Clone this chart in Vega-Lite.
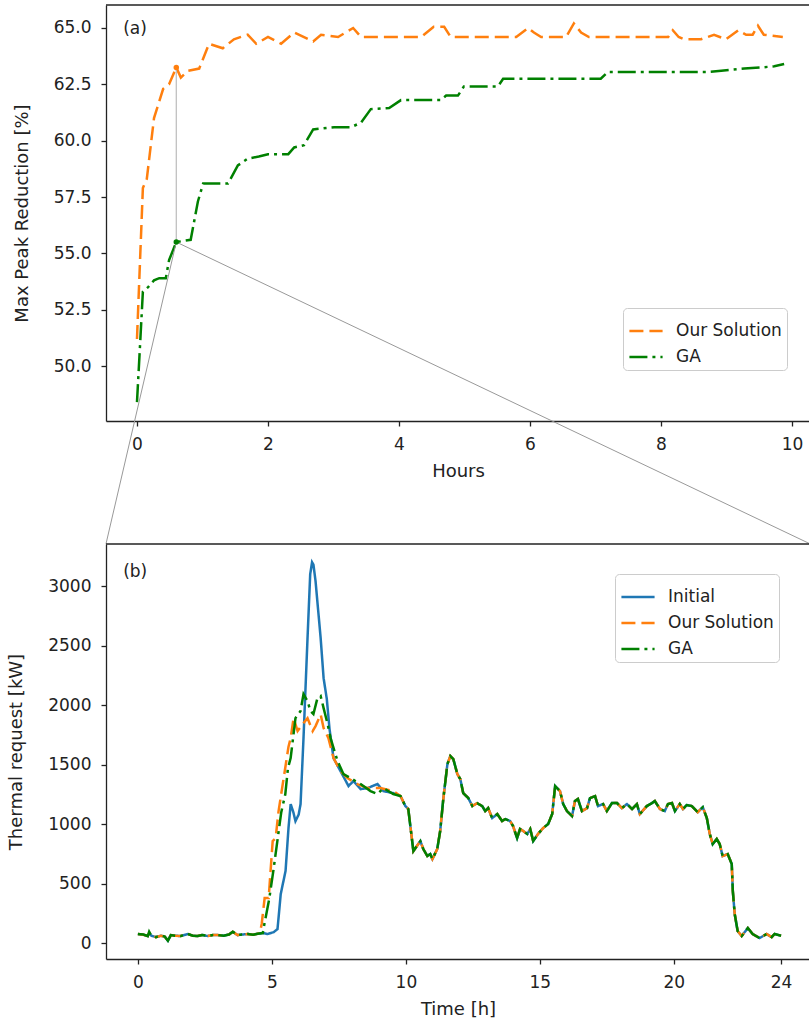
{
  "$schema": "https://vega.github.io/schema/vega-lite/v6.json",
  "padding": {"left": 7, "top": 4, "right": 0, "bottom": 0},
  "background": "white",
  "spacing": 123,
  "bounds": "flush",
  "config": {
    "view": {"stroke": null},
    "font": "DejaVu Sans",
    "axis": {
      "grid": false, "domainColor": "#222", "domainWidth": 1.3, "tickColor": "#222", "tickWidth": 1.3, "tickSize": 5,
      "labelFont": "DejaVu Sans", "labelFontSize": 17, "labelColor": "#222", "labelPadding": 10, "labelOverlap": false, "labelFlush": false,
      "titleFont": "DejaVu Sans", "titleFontSize": 18, "titleFontWeight": "normal", "titleColor": "#222", "titlePadding": 10
    },
    "axisY": {"titlePadding": 22},
    "legend": {"title": null, "fillColor": "white", "strokeColor": "#cccccc", "cornerRadius": 4, "padding": 5, "symbolType": "stroke", "symbolSize": 1100, "symbolStrokeWidth": 2.5, "labelFontSize": 17, "labelFont": "DejaVu Sans", "labelColor": "#222", "rowPadding": 0, "labelOffset": 12}
  },
  "resolve": {"scale": {"color": "independent", "strokeDash": "independent"}},
  "datasets": {
    "a": [
      {"h": 0.0, "s": "Our Solution", "v": 51.2}, {"h": 0.09, "s": "Our Solution", "v": 57.9}, {"h": 0.15, "s": "Our Solution", "v": 58.3},
      {"h": 0.26, "s": "Our Solution", "v": 61.0}, {"h": 0.40, "s": "Our Solution", "v": 62.3}, {"h": 0.49, "s": "Our Solution", "v": 62.5},
      {"h": 0.60, "s": "Our Solution", "v": 63.25}, {"h": 0.67, "s": "Our Solution", "v": 62.8}, {"h": 0.78, "s": "Our Solution", "v": 63.1},
      {"h": 0.95, "s": "Our Solution", "v": 63.2}, {"h": 1.10, "s": "Our Solution", "v": 64.3}, {"h": 1.31, "s": "Our Solution", "v": 64.1},
      {"h": 1.48, "s": "Our Solution", "v": 64.5}, {"h": 1.69, "s": "Our Solution", "v": 64.7}, {"h": 1.82, "s": "Our Solution", "v": 64.3},
      {"h": 2.00, "s": "Our Solution", "v": 64.6}, {"h": 2.20, "s": "Our Solution", "v": 64.3}, {"h": 2.40, "s": "Our Solution", "v": 64.8},
      {"h": 2.69, "s": "Our Solution", "v": 64.4}, {"h": 2.81, "s": "Our Solution", "v": 64.7}, {"h": 3.07, "s": "Our Solution", "v": 64.6},
      {"h": 3.30, "s": "Our Solution", "v": 65.0}, {"h": 3.42, "s": "Our Solution", "v": 64.6}, {"h": 4.03, "s": "Our Solution", "v": 64.6},
      {"h": 4.34, "s": "Our Solution", "v": 64.6}, {"h": 4.53, "s": "Our Solution", "v": 65.05}, {"h": 4.69, "s": "Our Solution", "v": 65.05},
      {"h": 4.79, "s": "Our Solution", "v": 64.6}, {"h": 5.79, "s": "Our Solution", "v": 64.6}, {"h": 5.97, "s": "Our Solution", "v": 65.0},
      {"h": 6.06, "s": "Our Solution", "v": 64.8}, {"h": 6.17, "s": "Our Solution", "v": 64.6}, {"h": 6.55, "s": "Our Solution", "v": 64.6},
      {"h": 6.67, "s": "Our Solution", "v": 65.2}, {"h": 6.78, "s": "Our Solution", "v": 64.8}, {"h": 6.90, "s": "Our Solution", "v": 64.6},
      {"h": 8.11, "s": "Our Solution", "v": 64.6}, {"h": 8.18, "s": "Our Solution", "v": 64.9}, {"h": 8.27, "s": "Our Solution", "v": 64.6},
      {"h": 8.35, "s": "Our Solution", "v": 64.5}, {"h": 8.61, "s": "Our Solution", "v": 64.5}, {"h": 8.81, "s": "Our Solution", "v": 64.7},
      {"h": 8.99, "s": "Our Solution", "v": 64.5}, {"h": 9.18, "s": "Our Solution", "v": 64.9}, {"h": 9.30, "s": "Our Solution", "v": 64.7},
      {"h": 9.40, "s": "Our Solution", "v": 64.7}, {"h": 9.48, "s": "Our Solution", "v": 65.1}, {"h": 9.57, "s": "Our Solution", "v": 64.7},
      {"h": 9.86, "s": "Our Solution", "v": 64.6},
      {"h": 0.0, "s": "GA", "v": 48.4}, {"h": 0.05, "s": "GA", "v": 51.1}, {"h": 0.09, "s": "GA", "v": 53.3}, {"h": 0.17, "s": "GA", "v": 53.5},
      {"h": 0.26, "s": "GA", "v": 53.8}, {"h": 0.34, "s": "GA", "v": 53.9}, {"h": 0.44, "s": "GA", "v": 53.9}, {"h": 0.49, "s": "GA", "v": 54.7},
      {"h": 0.60, "s": "GA", "v": 55.5}, {"h": 0.82, "s": "GA", "v": 55.6}, {"h": 0.93, "s": "GA", "v": 57.3}, {"h": 1.01, "s": "GA", "v": 58.1},
      {"h": 1.39, "s": "GA", "v": 58.1}, {"h": 1.54, "s": "GA", "v": 58.9}, {"h": 1.69, "s": "GA", "v": 59.2}, {"h": 1.86, "s": "GA", "v": 59.3},
      {"h": 2.00, "s": "GA", "v": 59.4}, {"h": 2.31, "s": "GA", "v": 59.4}, {"h": 2.40, "s": "GA", "v": 59.7}, {"h": 2.55, "s": "GA", "v": 59.8},
      {"h": 2.69, "s": "GA", "v": 60.5}, {"h": 3.01, "s": "GA", "v": 60.6}, {"h": 3.27, "s": "GA", "v": 60.6}, {"h": 3.42, "s": "GA", "v": 60.8},
      {"h": 3.57, "s": "GA", "v": 61.4}, {"h": 3.85, "s": "GA", "v": 61.45}, {"h": 4.03, "s": "GA", "v": 61.8}, {"h": 4.64, "s": "GA", "v": 61.8},
      {"h": 4.72, "s": "GA", "v": 62.0}, {"h": 4.90, "s": "GA", "v": 62.0}, {"h": 4.99, "s": "GA", "v": 62.4}, {"h": 5.51, "s": "GA", "v": 62.4},
      {"h": 5.59, "s": "GA", "v": 62.75}, {"h": 7.08, "s": "GA", "v": 62.75}, {"h": 7.19, "s": "GA", "v": 63.05}, {"h": 8.72, "s": "GA", "v": 63.05},
      {"h": 8.92, "s": "GA", "v": 63.1}, {"h": 9.27, "s": "GA", "v": 63.2}, {"h": 9.53, "s": "GA", "v": 63.25}, {"h": 9.73, "s": "GA", "v": 63.3},
      {"h": 9.88, "s": "GA", "v": 63.4}
    ],
    "b": [
      {"t": 0.00, "Initial": 76, "Our Solution": 76, "GA": 76},
      {"t": 0.20, "Initial": 70, "Our Solution": 70, "GA": 72},
      {"t": 0.37, "Initial": 59, "Our Solution": 59, "GA": 59},
      {"t": 0.42, "Initial": 84, "Our Solution": 84, "GA": 95},
      {"t": 0.50, "Initial": 62, "Our Solution": 62, "GA": 62},
      {"t": 0.67, "Initial": 50, "Our Solution": 50, "GA": 50},
      {"t": 0.86, "Initial": 62, "Our Solution": 62, "GA": 62},
      {"t": 1.00, "Initial": 55, "Our Solution": 55, "GA": 55},
      {"t": 1.12, "Initial": 20, "Our Solution": 20, "GA": 20},
      {"t": 1.23, "Initial": 67, "Our Solution": 67, "GA": 67},
      {"t": 1.40, "Initial": 62, "Our Solution": 62, "GA": 62},
      {"t": 1.60, "Initial": 59, "Our Solution": 59, "GA": 59},
      {"t": 1.86, "Initial": 76, "Our Solution": 76, "GA": 76},
      {"t": 2.05, "Initial": 62, "Our Solution": 62, "GA": 62},
      {"t": 2.23, "Initial": 59, "Our Solution": 59, "GA": 59},
      {"t": 2.40, "Initial": 68, "Our Solution": 68, "GA": 68},
      {"t": 2.60, "Initial": 59, "Our Solution": 59, "GA": 59},
      {"t": 2.80, "Initial": 67, "Our Solution": 67, "GA": 67},
      {"t": 2.98, "Initial": 67, "Our Solution": 67, "GA": 67},
      {"t": 3.20, "Initial": 62, "Our Solution": 62, "GA": 62},
      {"t": 3.40, "Initial": 72, "Our Solution": 72, "GA": 72},
      {"t": 3.54, "Initial": 95, "Our Solution": 95, "GA": 95},
      {"t": 3.72, "Initial": 67, "Our Solution": 67, "GA": 67},
      {"t": 3.90, "Initial": 72, "Our Solution": 72, "GA": 72},
      {"t": 4.10, "Initial": 76, "Our Solution": 76, "GA": 76},
      {"t": 4.30, "Initial": 70, "Our Solution": 70, "GA": 70},
      {"t": 4.47, "Initial": 78, "Our Solution": 78, "GA": 78},
      {"t": 4.55, "Our Solution": 84},
      {"t": 4.62, "Our Solution": 160},
      {"t": 4.66, "Initial": 84, "GA": 84},
      {"t": 4.72, "GA": 160},
      {"t": 4.73, "Our Solution": 378},
      {"t": 4.84, "Initial": 76},
      {"t": 4.88, "Our Solution": 378},
      {"t": 4.90, "GA": 370},
      {"t": 5.03, "Our Solution": 857},
      {"t": 5.05, "GA": 600},
      {"t": 5.07, "Initial": 92},
      {"t": 5.14, "Our Solution": 882},
      {"t": 5.20, "GA": 850},
      {"t": 5.21, "Initial": 118},
      {"t": 5.25, "Our Solution": 1109},
      {"t": 5.33, "Initial": 412},
      {"t": 5.35, "GA": 1100},
      {"t": 5.44, "Our Solution": 1386},
      {"t": 5.50, "GA": 1250},
      {"t": 5.51, "Initial": 605},
      {"t": 5.60, "GA": 1470},
      {"t": 5.62, "Initial": 966, "Our Solution": 1650},
      {"t": 5.70, "Initial": 1168, "Our Solution": 1722, "GA": 1554},
      {"t": 5.80, "Initial": 1100},
      {"t": 5.81, "Our Solution": 1890},
      {"t": 5.88, "Initial": 1025, "GA": 1890},
      {"t": 5.96, "Our Solution": 1781},
      {"t": 6.00, "Initial": 1080},
      {"t": 6.07, "Initial": 1168, "GA": 1949},
      {"t": 6.15, "Our Solution": 1840},
      {"t": 6.18, "Initial": 1722, "GA": 2092},
      {"t": 6.33, "Initial": 2562, "Our Solution": 1890, "GA": 2033},
      {"t": 6.43, "Initial": 3100},
      {"t": 6.44, "GA": 1949},
      {"t": 6.50, "Initial": 3200},
      {"t": 6.52, "Our Solution": 1781},
      {"t": 6.55, "Initial": 3180, "GA": 1924},
      {"t": 6.63, "Initial": 3040, "Our Solution": 1823},
      {"t": 6.70, "GA": 2058},
      {"t": 6.82, "Initial": 2562, "Our Solution": 1920, "GA": 2075},
      {"t": 6.93, "Initial": 2226, "Our Solution": 1806, "GA": 1974},
      {"t": 7.05, "Initial": 2050},
      {"t": 7.08, "GA": 1840},
      {"t": 7.11, "Our Solution": 1722},
      {"t": 7.15, "Initial": 1800},
      {"t": 7.19, "GA": 1722},
      {"t": 7.30, "Initial": 1554, "Our Solution": 1554},
      {"t": 7.45, "GA": 1529},
      {"t": 7.56, "Initial": 1445, "Our Solution": 1445},
      {"t": 7.67, "GA": 1420},
      {"t": 7.82, "Our Solution": 1386},
      {"t": 7.86, "Initial": 1319},
      {"t": 7.93, "GA": 1386},
      {"t": 8.04, "Initial": 1361},
      {"t": 8.19, "Our Solution": 1336},
      {"t": 8.31, "Initial": 1294, "GA": 1336},
      {"t": 8.57, "Initial": 1302, "Our Solution": 1302},
      {"t": 8.68, "GA": 1277},
      {"t": 8.94, "Initial": 1336, "GA": 1252},
      {"t": 9.05, "Our Solution": 1302},
      {"t": 9.16, "Initial": 1277, "GA": 1302},
      {"t": 9.53, "Initial": 1260, "Our Solution": 1277, "GA": 1252},
      {"t": 9.80, "Initial": 1235, "Our Solution": 1235, "GA": 1235},
      {"t": 9.98, "Initial": 1151, "Our Solution": 1151, "GA": 1151},
      {"t": 10.09, "Initial": 1126, "Our Solution": 1126, "GA": 1126},
      {"t": 10.28, "Initial": 773, "Our Solution": 773, "GA": 773},
      {"t": 10.54, "Initial": 857, "Our Solution": 857, "GA": 857},
      {"t": 10.65, "Initial": 790, "Our Solution": 790, "GA": 790},
      {"t": 10.80, "Initial": 731, "Our Solution": 731, "GA": 731},
      {"t": 10.91, "Initial": 748, "Our Solution": 748, "GA": 748},
      {"t": 10.99, "Initial": 706, "Our Solution": 706, "GA": 706},
      {"t": 11.17, "Initial": 790, "Our Solution": 790, "GA": 790},
      {"t": 11.28, "Initial": 941, "Our Solution": 941, "GA": 941},
      {"t": 11.40, "Initial": 1218, "Our Solution": 1218, "GA": 1218},
      {"t": 11.55, "Initial": 1504, "Our Solution": 1504, "GA": 1504},
      {"t": 11.66, "Initial": 1571, "Our Solution": 1571, "GA": 1571},
      {"t": 11.77, "Initial": 1546, "Our Solution": 1546, "GA": 1546},
      {"t": 11.92, "Initial": 1420, "Our Solution": 1420, "GA": 1420},
      {"t": 12.03, "Initial": 1378, "Our Solution": 1378, "GA": 1378},
      {"t": 12.14, "Initial": 1260, "Our Solution": 1260, "GA": 1260},
      {"t": 12.33, "Initial": 1218, "Our Solution": 1218, "GA": 1218},
      {"t": 12.48, "Initial": 1151, "Our Solution": 1151, "GA": 1151},
      {"t": 12.66, "Initial": 1176, "Our Solution": 1176, "GA": 1176},
      {"t": 12.85, "Initial": 1151, "Our Solution": 1151, "GA": 1151},
      {"t": 12.96, "Initial": 1109, "Our Solution": 1109, "GA": 1109},
      {"t": 13.07, "Initial": 1134, "Our Solution": 1134, "GA": 1134},
      {"t": 13.22, "Initial": 1050, "Our Solution": 1050, "GA": 1050},
      {"t": 13.41, "Initial": 1084, "Our Solution": 1084, "GA": 1084},
      {"t": 13.59, "Initial": 1025, "Our Solution": 1025, "GA": 1025},
      {"t": 13.71, "Initial": 1042, "Our Solution": 1042, "GA": 1042},
      {"t": 13.89, "Initial": 1025, "Our Solution": 1025, "GA": 1025},
      {"t": 14.00, "Initial": 983, "Our Solution": 983, "GA": 983},
      {"t": 14.15, "Initial": 882, "Our Solution": 882, "GA": 882},
      {"t": 14.26, "Initial": 958, "Our Solution": 958, "GA": 958},
      {"t": 14.38, "Initial": 941, "Our Solution": 941, "GA": 941},
      {"t": 14.53, "Initial": 916, "Our Solution": 916, "GA": 916},
      {"t": 14.64, "Initial": 958, "Our Solution": 958, "GA": 958},
      {"t": 14.75, "Initial": 857, "Our Solution": 857, "GA": 857},
      {"t": 14.93, "Initial": 916, "Our Solution": 916, "GA": 916},
      {"t": 15.12, "Initial": 966, "Our Solution": 966, "GA": 966},
      {"t": 15.31, "Initial": 1000, "Our Solution": 1000, "GA": 1000},
      {"t": 15.46, "Initial": 1084, "Our Solution": 1084, "GA": 1084},
      {"t": 15.57, "Initial": 1319, "Our Solution": 1319, "GA": 1319},
      {"t": 15.75, "Initial": 1277, "Our Solution": 1277, "GA": 1277},
      {"t": 15.87, "Initial": 1168, "Our Solution": 1168, "GA": 1168},
      {"t": 16.01, "Initial": 1109, "Our Solution": 1109, "GA": 1109},
      {"t": 16.20, "Initial": 1067, "Our Solution": 1067, "GA": 1067},
      {"t": 16.31, "Initial": 1193, "Our Solution": 1193, "GA": 1193},
      {"t": 16.42, "Initial": 1210, "Our Solution": 1210, "GA": 1210},
      {"t": 16.57, "Initial": 1109, "Our Solution": 1109, "GA": 1109},
      {"t": 16.76, "Initial": 1134, "Our Solution": 1134, "GA": 1134},
      {"t": 16.87, "Initial": 1218, "Our Solution": 1218, "GA": 1218},
      {"t": 17.06, "Initial": 1235, "Our Solution": 1235, "GA": 1235},
      {"t": 17.17, "Initial": 1151, "Our Solution": 1151, "GA": 1151},
      {"t": 17.36, "Initial": 1168, "Our Solution": 1168, "GA": 1168},
      {"t": 17.50, "Initial": 1109, "Our Solution": 1109, "GA": 1109},
      {"t": 17.69, "Initial": 1176, "Our Solution": 1176, "GA": 1176},
      {"t": 17.88, "Initial": 1176, "Our Solution": 1176, "GA": 1176},
      {"t": 18.06, "Initial": 1134, "Our Solution": 1134, "GA": 1134},
      {"t": 18.25, "Initial": 1168, "Our Solution": 1168, "GA": 1168},
      {"t": 18.44, "Initial": 1126, "Our Solution": 1126, "GA": 1126},
      {"t": 18.62, "Initial": 1168, "Our Solution": 1168, "GA": 1168},
      {"t": 18.73, "Initial": 1084, "Our Solution": 1084, "GA": 1084},
      {"t": 18.99, "Initial": 1151, "Our Solution": 1151, "GA": 1151},
      {"t": 19.18, "Initial": 1176, "Our Solution": 1176, "GA": 1176},
      {"t": 19.29, "Initial": 1193, "Our Solution": 1193, "GA": 1193},
      {"t": 19.48, "Initial": 1126, "Our Solution": 1126, "GA": 1126},
      {"t": 19.66, "Initial": 1109, "Our Solution": 1109, "GA": 1109},
      {"t": 19.78, "Initial": 1168, "Our Solution": 1168, "GA": 1168},
      {"t": 19.93, "Initial": 1176, "Our Solution": 1176, "GA": 1176},
      {"t": 20.04, "Initial": 1109, "Our Solution": 1109, "GA": 1109},
      {"t": 20.22, "Initial": 1168, "Our Solution": 1168, "GA": 1168},
      {"t": 20.34, "Initial": 1126, "Our Solution": 1126, "GA": 1126},
      {"t": 20.48, "Initial": 1160, "Our Solution": 1160, "GA": 1160},
      {"t": 20.67, "Initial": 1151, "Our Solution": 1151, "GA": 1151},
      {"t": 20.89, "Initial": 1100, "Our Solution": 1100, "GA": 1100},
      {"t": 21.08, "Initial": 1142, "Our Solution": 1142, "GA": 1142},
      {"t": 21.23, "Initial": 1050, "Our Solution": 1050, "GA": 1050},
      {"t": 21.34, "Initial": 916, "Our Solution": 916, "GA": 916},
      {"t": 21.45, "Initial": 832, "Our Solution": 832, "GA": 832},
      {"t": 21.60, "Initial": 874, "Our Solution": 874, "GA": 874},
      {"t": 21.71, "Initial": 832, "Our Solution": 832, "GA": 832},
      {"t": 21.82, "Initial": 731, "Our Solution": 731, "GA": 731},
      {"t": 22.01, "Initial": 748, "Our Solution": 748, "GA": 748},
      {"t": 22.16, "Initial": 664, "Our Solution": 664, "GA": 664},
      {"t": 22.20, "Initial": 437, "Our Solution": 437, "GA": 437},
      {"t": 22.27, "Initial": 244, "Our Solution": 244, "GA": 244},
      {"t": 22.38, "Initial": 101, "Our Solution": 101, "GA": 101},
      {"t": 22.53, "Initial": 59, "Our Solution": 59, "GA": 59},
      {"t": 22.76, "Initial": 126, "Our Solution": 126, "GA": 126},
      {"t": 22.94, "Initial": 76, "Our Solution": 76, "GA": 76},
      {"t": 23.20, "Initial": 42, "Our Solution": 42, "GA": 42},
      {"t": 23.46, "Initial": 76, "Our Solution": 76, "GA": 76},
      {"t": 23.65, "Initial": 50, "Our Solution": 50, "GA": 50},
      {"t": 23.76, "Initial": 76, "Our Solution": 76, "GA": 76},
      {"t": 24.00, "Initial": 62, "Our Solution": 62, "GA": 62}
    ]
  },
  "vconcat": [
    {
      "width": 704,
      "height": 416,
      "layer": [
        {
          "data": {"values": [{}]},
          "mark": {"type": "rule", "color": "#222", "strokeWidth": 1.3},
          "encoding": {"y": {"datum": 66.02, "type": "quantitative"}}
        },
        {
          "data": {"name": "a"},
          "mark": {"type": "line", "strokeWidth": 2.5},
          "encoding": {
            "x": {"field": "h", "type": "quantitative",
                  "scale": {"domain": [-0.473, 10.275], "nice": false, "zero": false},
                  "axis": {"values": [0, 2, 4, 6, 8, 10], "format": "d", "title": "Hours"}},
            "y": {"field": "v", "type": "quantitative",
                  "scale": {"domain": [47.56, 66.02], "nice": false, "zero": false},
                  "axis": {"values": [50, 52.5, 55, 57.5, 60, 62.5, 65], "format": ".1f", "title": "Max Peak Reduction [%]"}},
            "color": {"field": "s", "type": "nominal",
                      "scale": {"domain": ["Our Solution", "GA"], "range": ["#ff7f0e", "#008000"]},
                      "legend": {"orient": "none", "legendX": 517, "legendY": 303}},
            "strokeDash": {"field": "s", "type": "nominal",
                      "scale": {"domain": ["Our Solution", "GA"], "range": [[14, 6], [18, 5, 3, 5]]},
                      "legend": {"orient": "none", "legendX": 517, "legendY": 303}}
          }
        },
        {
          "data": {"values": [{}]},
          "mark": {"type": "rule", "color": "#999999", "strokeWidth": 1, "clip": false},
          "encoding": {"x": {"datum": 0.6, "type": "quantitative"}, "y": {"datum": 55.5, "type": "quantitative"}, "x2": {"datum": -0.473}, "y2": {"datum": 42.11}}
        },
        {
          "data": {"values": [{}]},
          "mark": {"type": "rule", "color": "#999999", "strokeWidth": 1, "clip": false},
          "encoding": {"x": {"datum": 0.6, "type": "quantitative"}, "y": {"datum": 55.5, "type": "quantitative"}, "x2": {"datum": 10.275}, "y2": {"datum": 42.11}}
        },
        {
          "data": {"values": [{}]},
          "mark": {"type": "rule", "color": "#bbbbbb", "strokeWidth": 1.2},
          "encoding": {"x": {"datum": 0.6, "type": "quantitative"}, "y": {"datum": 63.25, "type": "quantitative"}, "y2": {"datum": 55.5}}
        },
        {
          "data": {"values": [{"h": 0.6, "v": 63.25}]},
          "mark": {"type": "point", "filled": true, "size": 30, "color": "#ff7f0e", "opacity": 1},
          "encoding": {"x": {"field": "h", "type": "quantitative"}, "y": {"field": "v", "type": "quantitative"}}
        },
        {
          "data": {"values": [{"h": 0.6, "v": 55.5}]},
          "mark": {"type": "point", "filled": true, "size": 30, "color": "#008000", "opacity": 1},
          "encoding": {"x": {"field": "h", "type": "quantitative"}, "y": {"field": "v", "type": "quantitative"}}
        },
        {
          "data": {"values": [{}]},
          "mark": {"type": "text", "text": "(a)", "fontSize": 17, "font": "DejaVu Sans", "color": "#222", "align": "center", "baseline": "middle"},
          "encoding": {"x": {"datum": -0.03, "type": "quantitative"}, "y": {"datum": 64.95, "type": "quantitative"}}
        }
      ]
    },
    {
      "width": 704,
      "height": 415,
      "layer": [
        {
          "data": {"values": [{}]},
          "mark": {"type": "rule", "color": "#222", "strokeWidth": 1.3},
          "encoding": {"y": {"datum": 3353, "type": "quantitative"}}
        },
        {
          "data": {"name": "b"},
          "transform": [
            {"fold": ["Initial", "Our Solution", "GA"], "as": ["series", "kw"]},
            {"filter": "isValid(datum.kw)"}
          ],
          "mark": {"type": "line", "strokeWidth": 2.5},
          "encoding": {
            "x": {"field": "t", "type": "quantitative",
                  "scale": {"domain": [-1.19, 25.08], "nice": false, "zero": false},
                  "axis": {"values": [0, 5, 10, 15, 20, 24], "format": "d", "title": "Time [h]"}},
            "y": {"field": "kw", "type": "quantitative",
                  "scale": {"domain": [-134, 3353], "nice": false, "zero": false},
                  "axis": {"values": [0, 500, 1000, 1500, 2000, 2500, 3000], "format": "d", "title": "Thermal request [kW]"}},
            "color": {"field": "series", "type": "nominal",
                      "scale": {"domain": ["Initial", "Our Solution", "GA"], "range": ["#1f77b4", "#ff7f0e", "#008000"]},
                      "legend": {"orient": "none", "legendX": 509, "legendY": 30}},
            "strokeDash": {"field": "series", "type": "nominal",
                      "scale": {"domain": ["Initial", "Our Solution", "GA"], "range": [[1, 0], [14, 6], [18, 5, 3, 5]]},
                      "legend": {"orient": "none", "legendX": 509, "legendY": 30}}
          }
        },
        {
          "data": {"values": [{}]},
          "mark": {"type": "text", "text": "(b)", "fontSize": 17, "font": "DejaVu Sans", "color": "#222", "align": "center", "baseline": "middle"},
          "encoding": {"x": {"datum": -0.1, "type": "quantitative"}, "y": {"datum": 3120, "type": "quantitative"}}
        }
      ]
    }
  ]
}
